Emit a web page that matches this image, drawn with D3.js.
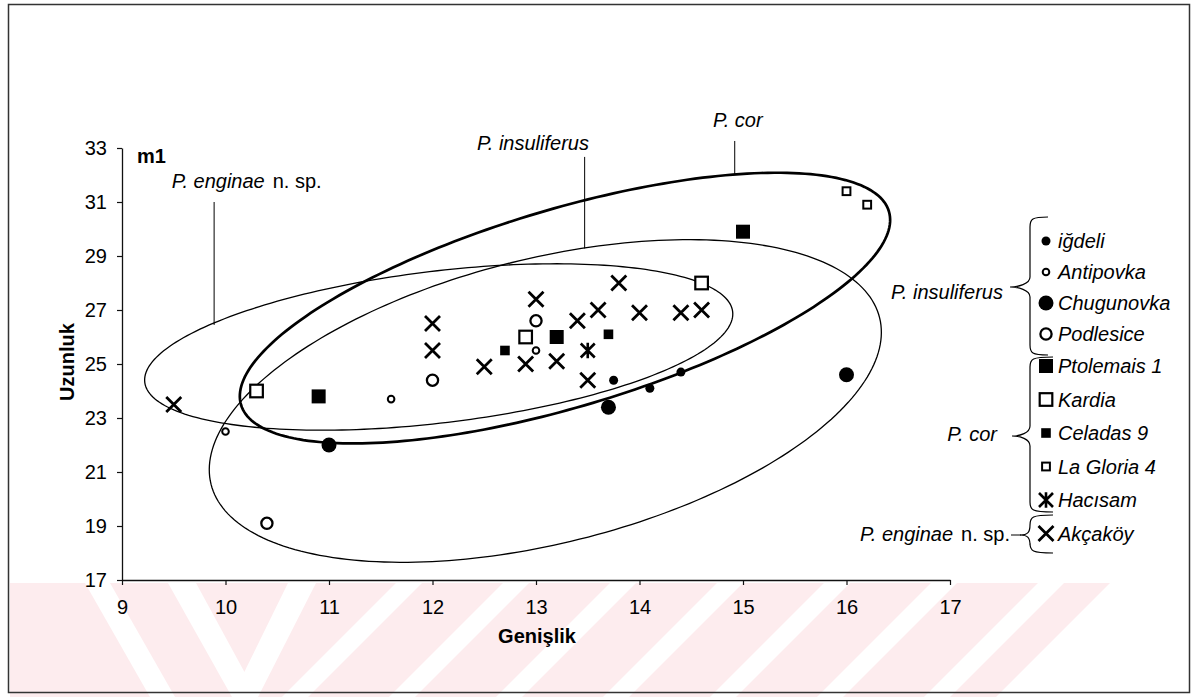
<!DOCTYPE html>
<html>
<head>
<meta charset="utf-8">
<script src="https://cdn.jsdelivr.net/npm/d3@7"></script>
<style>
  body { margin: 0; background: #fff; }
  svg { display: block; font-family: "Liberation Sans", Arial, sans-serif; }
</style>
</head>
<body>
<svg id="chart" width="1195" height="697"></svg>
<script>
// tick labels
var xTicks = [9, 10, 11, 12, 13, 14, 15, 16, 17];
var yTicks = [17, 19, 21, 23, 25, 27, 29, 31, 33];

// locality samples [width, length]
var igdeli     = [[13.75, 24.4], [14.1, 24.1], [14.4, 24.7]];
var antipovka  = [[10.0, 22.5], [11.6, 23.7], [13.0, 25.5]];
var chugunovka = [[11.0, 22.0], [13.7, 23.4], [16.0, 24.6]];
var podlesice  = [[10.4, 19.1], [12.0, 24.4], [13.0, 26.6]];
var ptolemais  = [[10.9, 23.8], [13.2, 26.0], [15.0, 29.9]];
var kardia     = [[10.3, 24.0], [12.9, 26.0], [14.6, 28.0]];
var celadas    = [[12.7, 25.5], [13.7, 26.1]];
var laGloria   = [[16.0, 31.4], [16.2, 30.9]];
var hacisam    = [[13.5, 25.5]];
var akcakoy    = [[9.5, 23.5], [12.0, 26.5], [12.0, 25.5], [12.5, 24.9], [12.9, 25.0],
                  [13.2, 25.1], [13.0, 27.4], [13.4, 26.6], [13.6, 27.0], [13.8, 28.0],
                  [14.0, 26.9], [14.4, 26.9], [14.6, 27.0], [13.5, 24.4]];

var seriesNames = ["iğdeli", "Antipovka", "Chugunovka", "Podlesice", "Ptolemais 1",
                   "Kardia", "Celadas 9", "La Gloria 4", "Hacısam", "Akçaköy"];
var seriesValues = [igdeli, antipovka, chugunovka, podlesice, ptolemais,
                    kardia, celadas, laGloria, hacisam, akcakoy];

// species ranges: centre and two conjugate half-axes, in data units
var enginaeRange     = {cx: 12.06, cy: 25.63, ax: 2.84, ay: 1.31, bx: 0.088, by: -2.79};
var corRange         = {cx: 13.28, cy: 27.07, ax: 3.13, ay: 3.58, bx: 0.27,  by: -3.51};
var insuliferusRange = {cx: 13.09, cy: 23.63, ax: 3.23, ay: 3.08, bx: 0.33,  by: -5.12};

var markerStyle = {
  "iğdeli":      {shape: "dot",  r: 4.5},
  "Antipovka":   {shape: "ring", r: 3.3, w: 2},
  "Chugunovka":  {shape: "dot",  r: 7.5},
  "Podlesice":   {shape: "ring", r: 5.6, w: 2.3},
  "Ptolemais 1": {shape: "sq",   r: 7},
  "Kardia":      {shape: "box",  r: 6.3, w: 2.2},
  "Celadas 9":   {shape: "sq",   r: 4.8},
  "La Gloria 4": {shape: "box",  r: 3.9, w: 2},
  "Hacısam":     {shape: "star", r: 7, w: 2.6},
  "Akçaköy":     {shape: "x",    r: 7.5, w: 2.8}
};

var svg = d3.select("#chart");

// scanned watermark band under the x axis
var wm = svg.append("g");
wm.append("clipPath").attr("id", "wmclip")
  .append("path").attr("d", "M10,583 L1110,583 L996,697 L10,697 Z");
var wmg = wm.append("g").attr("clip-path", "url(#wmclip)");
wmg.append("rect").attr("x", 0).attr("y", 583).attr("width", 1195).attr("height", 114).attr("fill", "#fdecee");
var whiteBands = [
  "M85,583 L110,583 L175,697 L150,697 Z",
  "M168,583 L196,583 L258,697 L232,697 Z",
  "M288,583 L316,583 L258,697 L232,697 Z"
];
[396, 503, 610, 717, 824, 931, 1038].forEach(function(t) {
  whiteBands.push("M" + t + ",583 L" + (t + 26) + ",583 L" + (t + 26 - 114) + ",697 L" + (t - 114) + ",697 Z");
});
wmg.selectAll("path.band").data(whiteBands).enter().append("path")
  .attr("class", "band").attr("d", function(d) { return d; }).attr("fill", "#fff");

// outer frame
svg.append("rect").attr("x", 8.5).attr("y", 4.5).attr("width", 1181).attr("height", 688)
  .attr("fill", "none").attr("stroke", "#333").attr("stroke-width", 1.5);

var x = d3.scaleLinear().domain([9, 17]).range([122, 950]);
var y = d3.scaleLinear().domain([17, 33]).range([580, 148]);

var gx = svg.append("g").attr("transform", "translate(0,580)")
  .call(d3.axisBottom(x).tickValues(xTicks).tickSize(5).tickPadding(15).tickSizeOuter(0));
var gy = svg.append("g").attr("transform", "translate(122,0)")
  .call(d3.axisLeft(y).tickValues(yTicks).tickSize(5).tickPadding(10).tickSizeOuter(0));
[gx, gy].forEach(function(g) {
  g.select(".domain").attr("stroke", "#111").attr("stroke-width", 1.3);
  g.selectAll(".tick line").attr("stroke", "#111").attr("stroke-width", 1.2);
  g.selectAll(".tick text").attr("font-family", "Liberation Sans, Arial, sans-serif")
    .attr("font-size", 20).attr("fill", "#000");
});

svg.append("text").attr("x", 537).attr("y", 643).attr("text-anchor", "middle")
  .attr("font-weight", "bold").attr("font-size", 20).text("Genişlik");
svg.append("text").attr("transform", "translate(74,362) rotate(-90)").attr("text-anchor", "middle")
  .attr("font-weight", "bold").attr("font-size", 20).text("Uzunluk");
svg.append("text").attr("x", 137).attr("y", 163).attr("font-weight", "bold").attr("font-size", 20).text("m1");

// species ranges
function ellipsePoints(e) {
  return d3.range(0, 241).map(function(i) {
    var t = i / 240 * 2 * Math.PI;
    return [x(e.cx + e.ax * Math.cos(t) + e.bx * Math.sin(t)),
            y(e.cy + e.ay * Math.cos(t) + e.by * Math.sin(t))];
  });
}
var line = d3.line().curve(d3.curveLinearClosed);
var ranges = [
  {e: enginaeRange, w: 1.3, label: "enginae", lx: 9.48, ly: 31.52, tx: 9.89, ty: 31.0},
  {e: corRange, w: 2.7, label: "cor", lx: 14.71, ly: 33.78, tx: 14.92, ty: 33.26},
  {e: insuliferusRange, w: 1.3, label: "insuliferus", lx: 12.43, ly: 32.93, tx: 13.47, ty: 32.67}
];
ranges.forEach(function(r) {
  var pts = ellipsePoints(r.e);
  svg.append("path").attr("d", line(pts)).attr("fill", "none")
    .attr("stroke", "#000").attr("stroke-width", r.w);
  // leader line to the upper edge of the range
  var px = x(r.tx);
  var top = d3.min(pts.filter(function(p, i) {
    var q = pts[(i + 1) % pts.length];
    return (p[0] - px) * (q[0] - px) <= 0;
  }), function(p) { return p[1]; });
  svg.append("line").attr("x1", px).attr("x2", px).attr("y1", y(r.ty)).attr("y2", top)
    .attr("stroke", "#000").attr("stroke-width", 1);
  var t = svg.append("text").attr("x", x(r.lx)).attr("y", y(r.ly)).attr("font-size", 20);
  if (r.label === "enginae") {
    t.append("tspan").attr("font-style", "italic").text("P. enginae");
    t.append("tspan").attr("dx", 8).text("n. sp.");
  } else {
    t.attr("font-style", "italic").text("P. " + r.label);
  }
});

// markers
function drawMarker(g, st) {
  var r = st.r;
  if (st.shape === "dot") {
    g.append("circle").attr("r", r).attr("fill", "#000");
  } else if (st.shape === "ring") {
    g.append("circle").attr("r", r).attr("fill", "#fff").attr("stroke", "#000").attr("stroke-width", st.w);
  } else if (st.shape === "sq") {
    g.append("rect").attr("x", -r).attr("y", -r).attr("width", 2 * r).attr("height", 2 * r).attr("fill", "#000");
  } else if (st.shape === "box") {
    g.append("rect").attr("x", -r).attr("y", -r).attr("width", 2 * r).attr("height", 2 * r)
      .attr("fill", "#fff").attr("stroke", "#000").attr("stroke-width", st.w);
  } else if (st.shape === "x") {
    g.append("path").attr("d", "M" + -r + "," + -r + "L" + r + "," + r + "M" + -r + "," + r + "L" + r + "," + -r)
      .attr("stroke", "#000").attr("stroke-width", st.w).attr("fill", "none");
  } else if (st.shape === "star") {
    g.append("path").attr("d", "M" + -r + "," + -r + "L" + r + "," + r + "M" + -r + "," + r + "L" + r + "," + -r +
        "M0," + -r * 1.1 + "L0," + r * 1.1)
      .attr("stroke", "#000").attr("stroke-width", st.w).attr("fill", "none");
  }
}

seriesNames.forEach(function(name, i) {
  seriesValues[i].forEach(function(d) {
    var g = svg.append("g").attr("transform", "translate(" + x(d[0]) + "," + y(d[1]) + ")");
    drawMarker(g, markerStyle[name]);
  });
});

// legend
function rowY(i) { return i < 4 ? 241 + 31 * i : 366 + 33.5 * (i - 4); }
seriesNames.forEach(function(name, i) {
  var g = svg.append("g").attr("transform", "translate(1046," + rowY(i) + ")");
  drawMarker(g, markerStyle[name]);
  svg.append("text").attr("x", 1058).attr("y", rowY(i) + 7).attr("font-size", 20)
    .attr("font-style", "italic").text(name);
});

function brace(top, bot, tipX, tipY, xr) {
  var xl = 1030, c = 10;
  return "M" + xr + "," + top +
    " C" + (xl + 2) + "," + top + " " + xl + "," + (top + 2) + " " + xl + "," + (top + c) +
    " L" + xl + "," + (tipY - c) +
    " C" + xl + "," + (tipY - 3) + " " + (tipX + 8) + "," + tipY + " " + tipX + "," + tipY +
    " C" + (tipX + 8) + "," + tipY + " " + xl + "," + (tipY + 3) + " " + xl + "," + (tipY + c) +
    " L" + xl + "," + (bot - c) +
    " C" + xl + "," + (bot - 2) + " " + (xl + 2) + "," + bot + " " + xr + "," + bot;
}
var braces = [
  {d: brace(217, 355, 1010, 287, 1048), label: "P. insuliferus", tx: 1003, ty: 299},
  {d: brace(357, 512, 1012, 436, 1053), label: "P. cor", tx: 997, ty: 441},
  {d: brace(515, 553, 1020, 535, 1053), label: "enginae", tx: 1010, ty: 541}
];
braces.forEach(function(b) {
  svg.append("path").attr("d", b.d).attr("fill", "none").attr("stroke", "#000").attr("stroke-width", 1.2);
  var t = svg.append("text").attr("x", b.tx).attr("y", b.ty).attr("text-anchor", "end").attr("font-size", 20);
  if (b.label === "enginae") {
    t.append("tspan").attr("font-style", "italic").text("P. enginae");
    t.append("tspan").attr("dx", 8).text("n. sp.");
  } else {
    t.attr("font-style", "italic").text(b.label);
  }
});
svg.append("line").attr("x1", 1011).attr("x2", 1021).attr("y1", 535).attr("y2", 535)
  .attr("stroke", "#000").attr("stroke-width", 1);
</script>
</body>
</html>
